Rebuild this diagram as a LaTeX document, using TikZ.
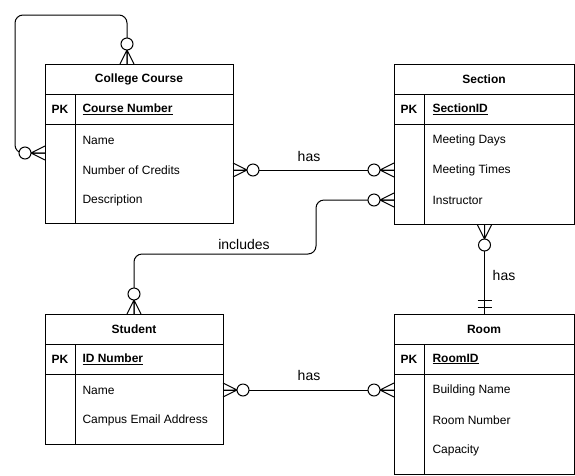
\documentclass[tikz,border=0pt]{standalone}
\usepackage{fontspec}
\setmainfont{Liberation Sans}
\begin{document}
\begin{tikzpicture}[x=1pt,y=-1pt,line width=1pt,
  every node/.style={font=\fontsize{12}{14}\selectfont, inner sep=0pt},
  entity/.style={draw, anchor=north west, inner sep=0pt},
  title/.style={font=\fontsize{12}{14}\selectfont\bfseries, anchor=center},
  pk/.style={font=\fontsize{12}{14}\selectfont\bfseries, anchor=center},
  key/.style={font=\fontsize{12}{14}\selectfont\bfseries, anchor=west},
  attr/.style={anchor=west},
  lbl/.style={anchor=center, font=\fontsize{14}{16}\selectfont},
  conn/.style={line width=1pt},
  zmany/.pic={\draw (0,-7)--(14,0)--(0,7) (0,0)--(14,0); \draw[fill=white] (20,0) circle[radius=6];},
  mone/.pic={\draw (7,-7)--(7,7) (14,-7)--(14,7);}
]
\useasboundingbox (0,0) rectangle (575,475);

% College Course
\node[entity, minimum width=188pt, minimum height=159pt] (cc) at (45,64) {};
\draw (45,94) -- (233,94) (45,124) -- (233,124) (75,94) -- (75,223);
\node[title] (cct) at (139,79) {College Course};
\node[pk] (ccpk) at (60,109) {PK};
\node[key] (cck) at (82,109) {\underline{Course Number}};
\node[attr] (cc1) at (82,140) {Name};
\node[attr] (cc2) at (82,170) {Number of Credits};
\node[attr] (cc3) at (82,200) {Description};

% Section
\node[entity, minimum width=180pt, minimum height=160pt] (sec) at (394,64) {};
\draw (394,94) -- (574,94) (394,124) -- (574,124) (424,94) -- (424,224);
\node[title] (sect) at (484,79) {Section};
\node[pk] (secpk) at (409,109) {PK};
\node[key] (seck) at (432,109) {\underline{SectionID}};
\node[attr] (sec1) at (432,140) {Meeting Days};
\node[attr] (sec2) at (432,170) {Meeting Times};
\node[attr] (sec3) at (432,200) {Instructor};

% Student
\node[entity, minimum width=178pt, minimum height=130pt] (st) at (45,314) {};
\draw (45,344) -- (223,344) (45,374) -- (223,374) (75,344) -- (75,444);
\node[title] (stt) at (134,329) {Student};
\node[pk] (stpk) at (60,359) {PK};
\node[key] (stk) at (82,359) {\underline{ID Number}};
\node[attr] (st1) at (82,390) {Name};
\node[attr] (st2) at (82,420) {Campus Email Address};

% Room
\node[entity, minimum width=180pt, minimum height=160pt] (rm) at (394,314) {};
\draw (394,344) -- (574,344) (394,374) -- (574,374) (424,344) -- (424,474);
\node[title] (rmt) at (484,329) {Room};
\node[pk] (rmpk) at (409,359) {PK};
\node[key] (rmk) at (432,359) {\underline{RoomID}};
\node[attr] (rm1) at (432,390) {Building Name};
\node[attr] (rm2) at (432,420) {Room Number};
\node[attr] (rm3) at (432,450) {Capacity};

% connector end points
\coordinate (ccR) at (233,170);
\coordinate (secL1) at (394,170);
\coordinate (secL2) at (394,200);
\coordinate (stT) at (134,314);
\coordinate (ccT) at (127,64);
\coordinate (ccL) at (45,153);
\coordinate (stR) at (223,390);
\coordinate (rmL) at (394,390);

% College Course -- Section
\draw[conn] (ccR) -- (secL1);
\pic at (ccR) {zmany};
\pic[rotate=180] at (secL1) {zmany};
\node[lbl] (l1) at (309,156) {has};

% Section -- Student
\draw[conn, rounded corners=8pt] (secL2) -| (316,254) -| (stT);
\pic[rotate=180] at (secL2) {zmany};
\pic[rotate=90] at (stT) {zmany};
\node[lbl] (l2) at (244,244) {includes};

% self loop
\draw[conn, rounded corners=8pt] (ccT) |- (15,15) |- (ccL);
\pic[rotate=90] at (ccT) {zmany};
\pic[rotate=180] at (ccL) {zmany};

% Section -- Room
\draw[conn] (sec.south) -- (rm.north);
\pic[rotate=-90] at (sec.south) {zmany};
\pic[rotate=90] at (rm.north) {mone};
\node[lbl] (l3) at (504,275) {has};

% Student -- Room
\draw[conn] (stR) -- (rmL);
\pic at (stR) {zmany};
\pic[rotate=180] at (rmL) {zmany};
\node[lbl] (l4) at (309,375) {has};
\end{tikzpicture}
\end{document}
